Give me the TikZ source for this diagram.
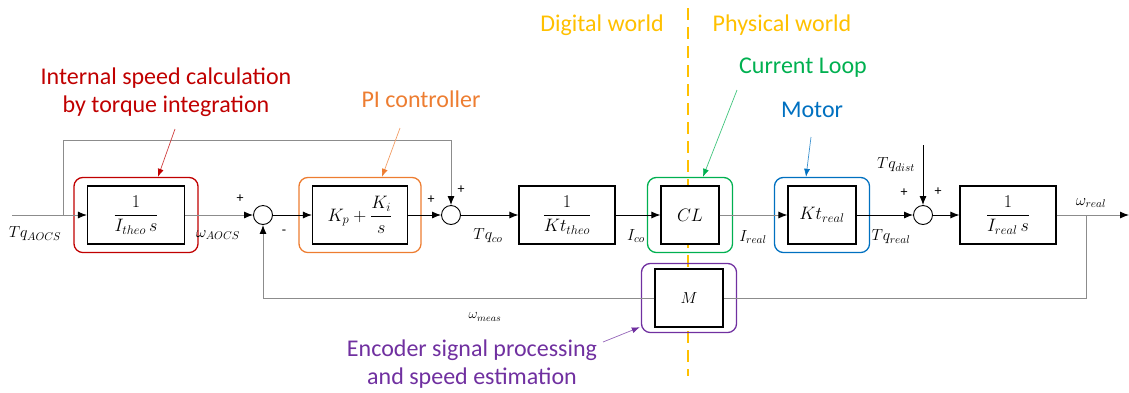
\RequirePackage{fix-cm}
\documentclass[tikz,border=0pt]{standalone}
\usepackage{amsmath}
\usepackage{fontspec}
\setmainfont{Carlito}
\usepackage{tikz}
\usetikzlibrary{arrows.meta}
\usetikzlibrary{positioning}
\usetikzlibrary{fit}

\definecolor{worldC}{HTML}{FFC000}
\definecolor{integC}{HTML}{C00000}
\definecolor{piC}{HTML}{ED7D31}
\definecolor{loopC}{HTML}{00B050}
\definecolor{motorC}{HTML}{0070C0}
\definecolor{encC}{HTML}{7030A0}

\begin{document}
\begin{tikzpicture}[x=1pt, y=-1pt,
        block/.style={draw, fill=white, line width=1.1pt, minimum width=#1, minimum height=58pt, inner sep=0pt, font=\fontsize{18}{21}\selectfont},
        block/.default=96pt,
        summ/.style={circle, draw, fill=white, line width=0.9pt, minimum size=19pt, inner sep=0pt},
        wire/.style={line width=0.9pt, -{Latex[length=9pt, width=7pt, color=black]}},
        grey/.style={draw=black!45},
        ring/.style={draw=#1, line width=1.3pt, rounded corners=9pt, inner xsep=13pt, inner ysep=8pt},
        note/.style={text=#1, font=\fontsize{24}{28}\selectfont, align=center},
        pointer/.style={draw=#1!75, line width=0.7pt, -{Latex[length=8pt, width=6pt, color=#1]}},
        lbl/.style={font=\fontsize{16}{18}\selectfont, inner sep=1pt},
        sign/.style={font=\fontsize{14}{15}\selectfont, inner sep=0pt},
    ]
    \useasboundingbox (0,0) rectangle (1129,392);
    % border between the two worlds
    \draw[worldC, line width=1.5pt, dash pattern=on 12pt off 7pt] (688,8) -- (688,376);
    \node[note=worldC] (digital) at (602,25) {Digital world};
    \node[note=worldC] (physical) at (782,25) {Physical world};

    \node[block=97pt] (integ) at (136,215) {$\dfrac{1}{I_{theo}\,s}$};
    \node[block=95pt] (pictl) at (360,215) {$K_p+\dfrac{K_i}{s}$};
    \node[block=96pt] (ktinv) at (567,215) {$\dfrac{1}{Kt_{theo}}$};
    \node[block=58pt] (cloop) at (690,215) {$CL$};
    \node[block=68pt] (ktreal) at (822,215) {$Kt_{real}$};
    \node[block=96pt] (plant) at (1008,215) {$\dfrac{1}{I_{real}\,s}$};
    \node[block=68pt, font=\fontsize{16}{18}\selectfont] (meas) at (689,298) {$M$};

    \node[summ] (s1) at (263,215) {};
    \node[summ] (s2) at (451,215) {};
    \node[summ] (s3) at (923,215) {};

    \node[ring=integC, fit=(integ)] (integring) {};
    \node[ring=piC, fit=(pictl)] (piring) {};
    \node[ring=loopC, fit=(cloop)] (loopring) {};
    \node[ring=motorC, fit=(ktreal)] (motorring) {};
    \node[ring=encC, inner ysep=5pt, fit=(meas)] (encring) {};

    \coordinate (in) at (12,215);
    \coordinate (tap) at (63,215);
    \coordinate (topr) at (451,140);
    \coordinate (dist) at (923,145);
    \coordinate (tapr) at (1086,215);
    \coordinate (out) at (1129,215);

    \draw[wire, grey] (in) -- (integ);
    \draw[wire, grey] (integ) -- (s1);
    \draw[wire] (s1) -- (pictl);
    \draw[wire] (pictl) -- (s2);
    \draw[wire] (s2) -- (ktinv);
    \draw[wire] (ktinv) -- (cloop);
    \draw[wire, grey] (cloop) -- (ktreal);
    \draw[wire] (ktreal) -- (s3);
    \draw[wire] (dist) -- (s3);
    \draw[wire] (s3) -- (plant);
    \draw[wire, grey] (plant) -- (out);
    \draw[wire, grey] (tap) |- (topr) -- (s2);
    \draw[line width=0.9pt, grey] (tapr) |- (meas);
    \draw[wire, grey] (meas) -| (s1);

    \node[sign] (p1) at (240,199) {+};
    \node[sign] (m1) at (284,232) {-};
    \node[sign] (p2) at (431,200) {+};
    \node[sign] (p3) at (461,190) {+};
    \node[sign] (p4) at (904,193) {+};
    \node[sign] (p5) at (938,192) {+};

    \node[lbl] (tqaocs) at (35,234) {$Tq_{AOCS}$};
    \node[lbl] (waocs) at (218,235) {$\omega_{AOCS}$};
    \node[lbl] (tqco) at (488,236) {$Tq_{co}$};
    \node[lbl] (ico) at (636,236) {$I_{co}$};
    \node[lbl] (ireal) at (753,237) {$I_{real}$};
    \node[lbl] (tqreal) at (891,237) {$Tq_{real}$};
    \node[lbl] (tqdist) at (896,165) {$Tq_{dist}$};
    \node[lbl] (wreal) at (1091,203) {$\omega_{real}$};
    \node[lbl, font=\fontsize{14}{16}\selectfont] (wmeas) at (485,317) {$\omega_{meas}$};

    \node[note=integC] (integnote) at (166,92) {Internal speed calculation\\by torque integration};
    \node[note=piC] (pinote) at (421,99) {PI controller};
    \node[note=loopC] (loopnote) at (803,68) {Current Loop};
    \node[note=motorC] (motornote) at (812,110) {Motor};
    \node[note=encC] (encnote) at (472,364) {Encoder signal processing\\and speed estimation};

    \coordinate (integfrom) at (175,129);
    \coordinate (pifrom) at (400,128);
    \coordinate (loopfrom) at (737,90);
    \coordinate (motorfrom) at (811,137);
    \coordinate (encfrom) at (603,342);
    \draw[pointer=integC] (integfrom) -- ([xshift=22pt]integring.north);
    \draw[pointer=piC] (pifrom) -- ([xshift=22pt]piring.north);
    \draw[pointer=loopC] (loopfrom) -- ([xshift=13pt]loopring.north);
    \draw[pointer=motorC] (motorfrom) -- ([xshift=-16pt]motorring.north);
    \draw[pointer=encC] (encfrom) -- ([xshift=-1pt,yshift=6pt]encring.south west);
\end{tikzpicture}
\end{document}
